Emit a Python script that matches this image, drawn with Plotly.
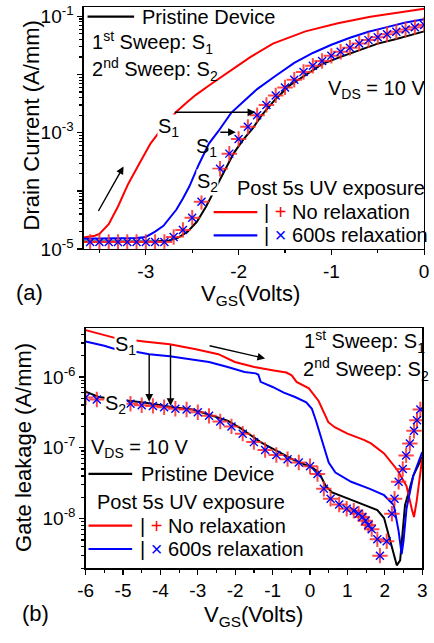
import numpy as np
import plotly.graph_objects as go

W, H = 434, 643
FONT = "Liberation Sans, Arial, sans-serif"

# ---------------- (a) Drain current vs VGS ----------------
a_black_v = [-3.67, -3.2, -2.9, -2.75, -2.65, -2.55, -2.45, -2.35, -2.25, -2.15, -2.05, -1.95,
             -1.85, -1.75, -1.6, -1.45, -1.3, -1.1, -0.9, -0.7, -0.5, -0.3, -0.1, 0.0]
a_black_i = [1.35e-5, 1.35e-5, 1.35e-5, 1.41e-5, 1.58e-5, 2.0e-5, 2.95e-5, 5.4e-5, 1.12e-4, 2.24e-4,
             4.5e-4, 7.6e-4, 1.17e-3, 2.0e-3, 3.8e-3, 6.5e-3, 9.3e-3, 1.51e-2, 2.0e-2, 2.63e-2,
             3.39e-2, 4.07e-2, 5.0e-2, 5.5e-2]

a_red_s1_v = [-3.67, -3.55, -3.5, -3.45, -3.4, -3.3, -3.19, -3.09, -2.95, -2.85, -2.75, -2.67,
              -2.55, -2.46, -2.3, -2.18, -2.0, -1.87, -1.63, -1.28, -0.93, -0.58, -0.23, 0.0]
a_red_s1_i = [1.58e-5, 1.70e-5, 1.82e-5, 2.19e-5, 2.69e-5, 5.4e-5, 1.32e-4, 2.57e-4, 6.5e-4, 1.05e-3,
              1.58e-3, 2.29e-3, 3.39e-3, 4.47e-3, 6.8e-3, 9.3e-3, 1.45e-2, 2.0e-2, 3.39e-2, 5.5e-2,
              7.6e-2, 9.8e-2, 0.117, 0.135]

a_blue_s1_v = [-3.67, -3.1, -3.0, -2.9, -2.81, -2.74, -2.67, -2.6, -2.53, -2.43, -2.32, -2.22,
               -2.08, -1.95, -1.8, -1.6, -1.4, -1.2, -1.0, -0.8, -0.6, -0.4, -0.2, 0.0]
a_blue_s1_i = [1.51e-5, 1.55e-5, 1.62e-5, 2.0e-5, 2.51e-5, 3.39e-5, 4.79e-5, 7.4e-5, 1.2e-4, 2.82e-4,
               6.5e-4, 1.05e-3, 2.19e-3, 3.39e-3, 5.6e-3, 9.5e-3, 1.58e-2, 2.34e-2, 3.24e-2,
               4.27e-2, 5.4e-2, 6.5e-2, 7.8e-2, 8.9e-2]

a_s2_v = [-3.6, -3.5, -3.4, -3.3, -3.2, -3.1, -3.0, -2.9, -2.8, -2.7, -2.6, -2.5, -2.4, -2.3,
          -2.2, -2.1, -2.0, -1.9, -1.8, -1.7, -1.6, -1.5, -1.4, -1.3, -1.2, -1.1, -1.0, -0.9,
          -0.8, -0.7, -0.6, -0.5, -0.4, -0.3, -0.2, -0.1, 0.0]
a_red_s2_i = [1.33e-5, 1.33e-5, 1.33e-5, 1.33e-5, 1.33e-5, 1.33e-5, 1.33e-5, 1.33e-5, 1.33e-5,
              1.62e-5, 2.14e-5, 3.47e-5, 6.5e-5, None, 2.4e-4, 4.37e-4, 7.8e-4, 1.26e-3, 2.0e-3,
              3.0e-3, 4.37e-3, 6.0e-3, 8.1e-3, 1.1e-2, 1.41e-2, 1.7e-2, 2.09e-2, 2.45e-2, 2.88e-2,
              3.39e-2, 3.89e-2, 4.37e-2, 4.9e-2, 5.4e-2, 5.9e-2, 6.5e-2, 7.1e-2]
a_blue_s2_i = list(a_red_s2_i)

# ---------------- (b) Gate leakage vs VGS ----------------
b_black_v = [-6.0, -5.65, -5.13, -4.35, -3.66, -3.14, -2.71, -2.19, -1.84, -1.53, -1.32, -1.19,
             -0.88, -0.45, 0.07, 0.24, 0.42, 0.59, 1.02, 1.46, 1.8, 1.98, 2.15, 2.32, 2.41, 2.54,
             2.76, 3.0]
b_black_i = [6.2e-7, 5.2e-7, 4.8e-7, 4.27e-7, 3.72e-7, 3.47e-7, 2.95e-7, 2.4e-7, 1.86e-7, 1.41e-7,
             1.2e-7, 1.1e-7, 8.9e-8, 6.8e-8, 5.2e-8, 4.47e-8, 2.88e-8, 2.34e-8, 1.91e-8, 1.55e-8,
             1.32e-8, 1.02e-8, 4.8e-9, 2.19e-9, 2.57e-9, 1.55e-8, 4.0e-8, 7.4e-8]

b_red_s1_v = [-6.0, -5.22, -4.44, -3.75, -3.05, -2.45, -2.01, -1.49, -0.97, -0.63, -0.49, -0.36,
              -0.03, 0.23, 0.49, 0.66, 1.0, 1.44, 1.63, 1.98, 2.33, 2.58, 2.72, 2.78, 2.85, 2.93, 3.0]
b_red_s1_i = [4.57e-6, 3.55e-6, 3.16e-6, 2.88e-6, 2.45e-6, 2.09e-6, 1.62e-6, 1.38e-6, 1.23e-6,
              1.15e-6, 1.05e-6, 8.5e-7, 6.9e-7, 4.57e-7, 2.29e-7, 1.95e-7, 1.58e-7, 1.29e-7,
              1.15e-7, 8.3e-8, 4.9e-8, 2.88e-8, 1.38e-8, 1.05e-8, 1.74e-8, 4.0e-8, 7.1e-8]

b_blue_s1_v = [-6.0, -5.5, -5.2, -4.8, -4.3, -3.75, -3.25, -2.7, -2.2, -1.75, -1.45, -1.38, -1.32,
               -1.0, -0.7, -0.4, -0.1, 0.05, 0.16, 0.29, 0.42, 0.5, 0.68, 1.1, 1.6, 1.98, 2.24,
               2.37, 2.45, 2.5, 2.58, 2.76, 3.0]
b_blue_s1_i = [3.16e-6, 2.75e-6, 2.45e-6, 2.34e-6, 2.09e-6, 1.95e-6, 1.78e-6, 1.62e-6, 1.38e-6,
               1.17e-6, 1.12e-6, 1.07e-6, 8.5e-7, 7.2e-7, 6.0e-7, 5.2e-7, 4.37e-7, 3.55e-7, 2.4e-7,
               1.41e-7, 8.3e-8, 6.2e-8, 4.47e-8, 3.31e-8, 2.63e-8, 2.14e-8, 1.55e-8, 6.6e-9,
               3.16e-9, 4.8e-9, 1.38e-8, 4.0e-8, 8.7e-8]

b_s2_v = [-6.0, -5.7, -5.4, -5.1, -4.8, -4.5, -4.2, -3.9, -3.6, -3.3, -3.0, -2.7, -2.4, -2.1, -1.8,
          -1.5, -1.2, -0.9, -0.6, -0.3, 0.0, 0.2, 0.37, 0.55, 0.78, 0.98, 1.17, 1.3, 1.4, 1.48,
          1.56, 1.65, 1.8, 1.87, 2.05, 2.19, 2.26, 2.37, 2.48, 2.57, 2.67, 2.78, 2.86, 2.95]
b_red_s2_i = [5.1e-7, 4.8e-7, None, None, 4.17e-7, 3.98e-7, 3.89e-7, 3.72e-7, 3.55e-7, 3.47e-7,
              3.16e-7, 2.82e-7, 2.34e-7, 2.0e-7, 1.58e-7, 1.2e-7, 9.3e-8, 7.9e-8, 6.9e-8, 6.2e-8,
              5.5e-8, 4.27e-8, 2.63e-8, 1.91e-8, 1.58e-8, 1.38e-8, 1.29e-8, 1.17e-8, 1.05e-8,
              9.3e-9, 8.1e-9, 7.1e-9, 5.1e-9, 3.0e-9, 4.8e-9, 1.17e-8, 1.91e-8, 3.31e-8, 5.0e-8,
              7.8e-8, 1.15e-7, 1.74e-7, 2.45e-7, 3.47e-7]
b_blue_s2_i = list(b_red_s2_i)

# tick definitions
a_xticks = [-3, -2, -1, 0]
a_xminor = [-3.5, -2.5, -1.5, -0.5]
a_yticks = [1e-5, 1e-4, 1e-3, 1e-2, 1e-1]
a_ytext = ["10<sup>-5</sup>", "", "10<sup>-3</sup>", "", "10<sup>-1</sup>"]
b_xticks = [-6, -5, -4, -3, -2, -1, 0, 1, 2, 3]
b_xminor = [-5.5, -4.5, -3.5, -2.5, -1.5, -0.5, 0.5, 1.5, 2.5]
b_yticks = [1e-8, 1e-7, 1e-6]
b_ytext = ["10<sup>-8</sup>", "10<sup>-7</sup>", "10<sup>-6</sup>"]

RED = "#ff0000"
BLUE = "#0000ff"
RED_M = "rgba(255,40,40,0.85)"

fig = go.Figure()


def lines(x, y, color, xa, ya):
    fig.add_trace(go.Scatter(x=x, y=y, mode="lines", line=dict(color=color, width=2),
                             xaxis=xa, yaxis=ya, showlegend=False, connectgaps=False))


def marks(x, y, sym, color, size, lw, xa, ya):
    fig.add_trace(go.Scatter(x=x, y=y, mode="markers",
                             marker=dict(symbol=sym, size=size, color=color,
                                         line=dict(color=color, width=lw)),
                             xaxis=xa, yaxis=ya, showlegend=False))


# (a)
lines(a_black_v, a_black_i, "black", "x", "y")
lines(a_red_s1_v, a_red_s1_i, RED, "x", "y")
lines(a_blue_s1_v, a_blue_s1_i, BLUE, "x", "y")
marks(a_s2_v, a_red_s2_i, "cross-thin", RED_M, 11, 2, "x", "y")
marks(a_s2_v, a_blue_s2_i, "x-thin", BLUE, 8, 1.4, "x", "y")
# (b)
lines(b_black_v, b_black_i, "black", "x2", "y2")
lines(b_red_s1_v, b_red_s1_i, RED, "x2", "y2")
lines(b_blue_s1_v, b_blue_s1_i, BLUE, "x2", "y2")
marks(b_s2_v, b_red_s2_i, "cross-thin", RED_M, 11, 2, "x2", "y2")
marks(b_s2_v, b_blue_s2_i, "x-thin", BLUE, 8, 1.4, "x2", "y2")


def px(x):
    return x / W


def py(y):
    return 1 - y / H


def minor_log(e0, e1):
    return [k * 10.0 ** e for e in range(e0, e1 + 1) for k in range(2, 10)]


axis_common = dict(showline=True, linecolor="black", linewidth=1.3, mirror=True, showgrid=False,
                   zeroline=False, ticks="outside", ticklen=5, tickwidth=1.3, tickcolor="black",
                   ticklabeloverflow="allow",
                   tickfont=dict(family=FONT, size=19, color="black"))

fig.update_layout(
    width=W, height=H, margin=dict(l=0, r=0, t=0, b=0),
    paper_bgcolor="white", plot_bgcolor="white", hovermode=False,
    font=dict(family=FONT, color="black"),
    xaxis=dict(domain=[px(78), px(429)], anchor="y", range=[-3.67, 0], tickmode="array",
               tickvals=a_xticks, ticktext=[str(t) for t in a_xticks],
               minor=dict(tickmode="array", tickvals=a_xminor, ticks="outside", ticklen=3,
                          tickwidth=1.2, tickcolor="black"), **axis_common),
    yaxis=dict(domain=[py(251), py(3)], anchor="x", type="log", range=[-5, -0.84],
               tickmode="array", tickvals=a_yticks, ticktext=a_ytext,
               minor=dict(tickmode="array", tickvals=minor_log(-5, -1), ticks="outside",
                          ticklen=3, tickwidth=1.2, tickcolor="black"), **axis_common),
    xaxis2=dict(domain=[px(80), px(427)], anchor="y2", range=[-6, 3], tickmode="array",
                tickvals=b_xticks, ticktext=[str(t) for t in b_xticks],
                minor=dict(tickmode="array", tickvals=b_xminor, ticks="outside", ticklen=3,
                           tickwidth=1.2, tickcolor="black"), **axis_common),
    yaxis2=dict(domain=[py(577.7), py(331.7)], anchor="x2", type="log", range=[-8.70, -5.31],
                tickmode="array", tickvals=b_yticks, ticktext=b_ytext,
                minor=dict(tickmode="array", tickvals=minor_log(-9, -6), ticks="outside",
                           ticklen=3, tickwidth=1.2, tickcolor="black"), **axis_common),
)

annotations = []
shapes = []


def text(x, y, s, size=20, anchor="left", angle=0, color="black", bg=None):
    d = dict(x=px(x), y=py(y), xref="paper", yref="paper", text=s,
             showarrow=False, xanchor=anchor, yanchor="middle",
             textangle=angle, font=dict(family=FONT, size=size, color=color))
    if bg:
        d.update(bgcolor=bg, borderpad=0)
    annotations.append(d)


def seg(x0, x1, y, color):
    shapes.append(dict(type="line", xref="paper", yref="paper", x0=px(x0), x1=px(x1),
                       y0=py(y), y1=py(y), line=dict(color=color, width=2.2)))


def arrow(v, cur, ax, ay, xa, ya):
    annotations.append(dict(x=v, y=float(np.log10(cur)), xref=xa, yref=ya, ax=ax, ay=ay,
                            axref="pixel", ayref="pixel", showarrow=True, arrowhead=2,
                            arrowsize=1.1, arrowwidth=1.4, arrowcolor="black", text=""))


# --- panel (a) texts ---
seg(82, 130, 13, "black")
text(136, 13, "Pristine Device")
text(85, 39, "1<sup>st</sup> Sweep: S<sub>1</sub>")
text(85, 67, "2<sup>nd</sup> Sweep: S<sub>2</sub>")
text(328, 88, "V<sub>DS</sub> = 10 V")
text(154, 126, "S<sub>1</sub>", bg="white")
text(192, 147, "S<sub>1</sub>")
text(194, 183, "S<sub>2</sub>", bg="white")
text(234, 188, "Post 5s UV exposure")
seg(212, 257, 213, RED)
text(262, 213, '| <span style="color:#ff0000">+</span> No relaxation')
seg(212, 257, 237, BLUE)
text(262, 237, '| <span style="color:#0000ff">×</span> 600s relaxation')
text(6, 295, "(a)", size=22)
text(250, 298, "V<sub>GS</sub>(Volts)", size=22, anchor="center")
text(24, 124, "Drain Current (A/mm)", size=22, anchor="center", angle=-90)

arrow(-1.82, 2.24e-3, -82, 0, "x", "y")
arrow(-2.03, 1.02e-3, -17, 0, "x", "y")
arrow(-3.24, 2.63e-4, -26, 46, "x", "y")

# --- panel (b) texts ---
text(109, 350, "S<sub>1</sub>", bg="white")
text(99, 410, "S<sub>2</sub>", bg="white")
text(303, 346, "1<sup>st</sup> Sweep: S<sub>1</sub>")
text(302, 374, "2<sup>nd</sup> Sweep: S<sub>2</sub>")
text(83, 455, "V<sub>DS</sub> = 10 V")
seg(83, 128, 481, "black")
text(135, 481, "Pristine Device")
text(90, 510, "Post 5s UV exposure")
seg(83, 128, 534, RED)
text(134, 534, '| <span style="color:#ff0000">+</span> No relaxation')
seg(83, 128, 558, BLUE)
text(134, 558, '| <span style="color:#0000ff">×</span> 600s relaxation')
text(12, 624, "(b)", size=22)
text(253, 627, "V<sub>GS</sub>(Volts)", size=22, anchor="center")
text(16, 454, "Gate leakage (A/mm)", size=22, anchor="center", angle=-90)

arrow(-4.30, 4.47e-7, 0, -49, "x2", "y2")
arrow(-3.73, 3.9e-7, 0, -62, "x2", "y2")
arrow(-1.20, 1.82e-6, -57, -13, "x2", "y2")

fig.update_layout(annotations=annotations, shapes=shapes)
fig.write_html("out.html", config={"displayModeBar": False, "staticPlot": True},
               post_script="document.body.style.margin='0';document.body.style.overflow='hidden';")
